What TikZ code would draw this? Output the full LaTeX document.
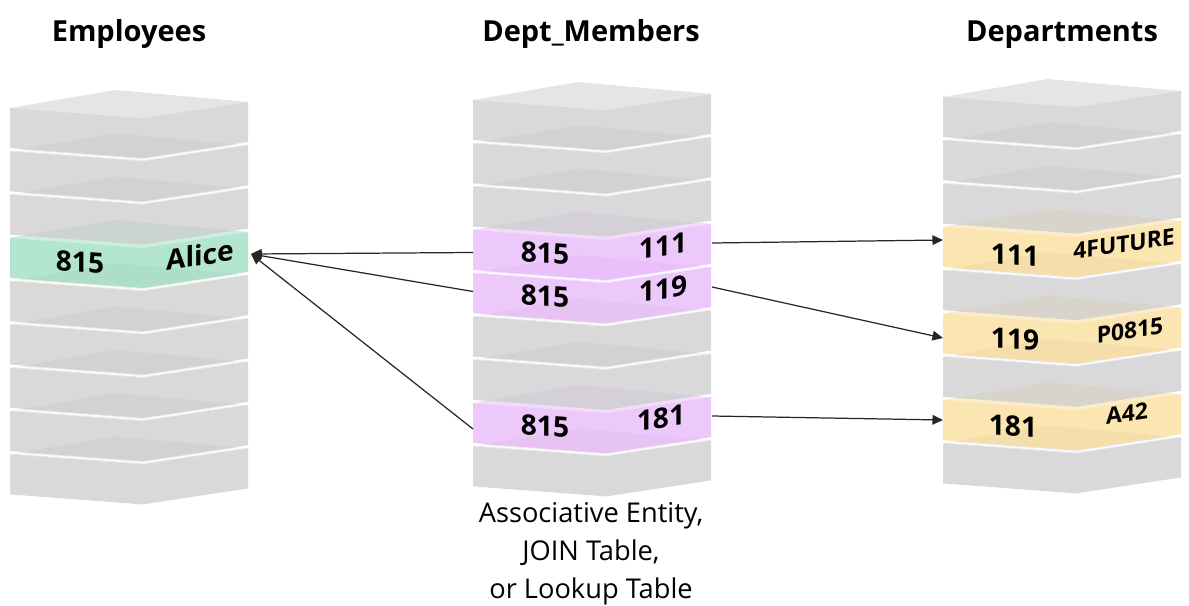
\documentclass[tikz,border=0pt]{standalone}
\usepackage{fontspec}
\setmainfont{Open Sans}
\usepackage{tikz}
\usetikzlibrary{arrows.meta, positioning}
\definecolor{slabgray}{HTML}{CCCCCC}
\definecolor{slabgreen}{HTML}{9ADCBF}
\definecolor{slabpink}{HTML}{E6B7F8}
\definecolor{slabyellow}{HTML}{FADC96}

\begin{document}
\begin{tikzpicture}[
    x=0.02cm, y=-0.02cm,
    layer color/.store in=\layercolor, layer color=slabgray,
    layer/.pic={
        % top face, then the front band
        \fill[fill=\layercolor, fill opacity=0.5] (0,0) -- (105,-18) -- (238,-6) -- (133,10) -- cycle;
        \fill[fill=\layercolor, fill opacity=0.75] (0,0) -- (133,10) -- (238,-6) -- (238,34) -- (133,50) -- (0,40) -- cycle;
    },
    seam/.style={white, line width=1pt, opacity=0.8},
    title/.style={font=\bfseries\fontsize{16.5}{20}\selectfont, anchor=base},
    cell/.style={font=\bfseries\fontsize{16}{19}\selectfont, inner sep=0pt},
    lcell/.style={cell, yslant=-0.075},
    rcell/.style={cell, yslant=0.15},
    ncell/.style={rcell, font=\bfseries\fontsize{13}{16}\selectfont},
    note/.style={font=\fontsize{15.5}{21.6}\selectfont, align=center, anchor=north, inner sep=0pt},
    link/.style={-{Triangle[length=6pt,width=5.5pt]}, line width=0.7pt, black!85}
]
\useasboundingbox (0,0) rectangle (1189,605);

% the three tables, drawn bottom layer first
\foreach \k/\c in {8/slabgray,7/slabgray,6/slabgray,5/slabgray,4/slabgray,3/slabgreen,2/slabgray,1/slabgray,0/slabgray}
    \pic[layer color=\c] at (10,{108+43.3*\k}) {layer};
\foreach \k/\c in {8/slabgray,7/slabpink,6/slabgray,5/slabgray,4/slabpink,3/slabpink,2/slabgray,1/slabgray,0/slabgray}
    \pic[layer color=\c] at (473,{100+43.3*\k}) {layer};
\foreach \k/\c in {8/slabgray,7/slabyellow,6/slabgray,5/slabyellow,4/slabgray,3/slabyellow,2/slabgray,1/slabgray,0/slabgray}
    \pic[layer color=\c] at (943,{97+43.3*\k}) {layer};

% gaps between the rows
\foreach \k in {1,2,4,5,6,7,8}
    \draw[seam] (10,{108+43.3*\k-1.6}) -- ++(133,10) -- ++(105,-16);
\foreach \k in {1,2,4,5,6,8}
    \draw[seam] (473,{100+43.3*\k-1.6}) -- ++(133,10) -- ++(105,-16);
\foreach \k in {1,2,4,6,8}
    \draw[seam] (943,{97+43.3*\k-1.6}) -- ++(133,10) -- ++(105,-16);

% headings
\node[title] (emp) at (129,41) {Employees};
\node[title] (mem) at (591,41) {Dept\_Members};
\node[title] (dep) at (1062,41) {Departments};

% row contents
\node[lcell] (empid) at (80,262) {815};
\node[rcell] (alice) at (200,255) {Alice};

\node[lcell] (m1a) at (545,253) {815};
\node[rcell] (m1b) at (663,246) {111};
\node[lcell] (m2a) at (545,296) {815};
\node[rcell] (m2b) at (663,289) {119};
\node[lcell] (m3a) at (545,426) {815};
\node[rcell] (m3b) at (661,418) {181};

\node[lcell] (d1a) at (1015,255) {111};
\node[ncell] (d1b) at (1124,244) {4FUTURE};
\node[lcell] (d2a) at (1015,339) {119};
\node[ncell] (d2b) at (1130,330) {P0815};
\node[lcell] (d3a) at (1013,426) {181};
\node[ncell] (d3b) at (1127,413) {A42};

\node[note] (assoc) at (591,502) {Associative Entity,\\JOIN Table,\\or Lookup Table};

% connector ends on the row edges
\coordinate (alicein) at (251,254);
\coordinate (m1w) at (473,252.5);
\coordinate (m2w) at (473,291.5);
\coordinate (m3w) at (473,429);
\coordinate (m1e) at (712,243);
\coordinate (m2e) at (712,287);
\coordinate (m3e) at (712,416);
\coordinate (d1in) at (943,240);
\coordinate (d2in) at (943,338);
\coordinate (d3in) at (943,420);

\draw[link] (m1w) -- (alicein);
\draw[link] (m2w) -- (alicein);
\draw[link] (m3w) -- (alicein);
\draw[link] (m1e) -- (d1in);
\draw[link] (m2e) -- (d2in);
\draw[link] (m3e) -- (d3in);
\end{tikzpicture}
\end{document}
